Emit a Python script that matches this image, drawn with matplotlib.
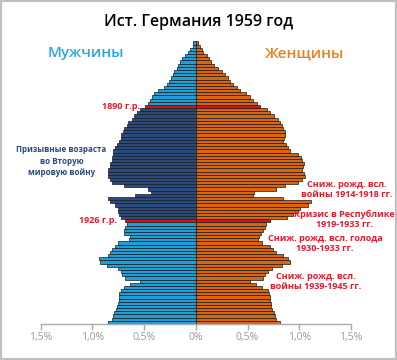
import matplotlib.pyplot as plt
from matplotlib.patches import Rectangle
import numpy as np

# share of total population, %, ages 0..88
male = [0.85, 0.81, 0.80, 0.79, 0.77, 0.76, 0.75, 0.74, 0.74, 0.74,
        0.72, 0.69, 0.64, 0.54, 0.68, 0.71, 0.72, 0.75, 0.86, 0.93,
        0.94, 0.85, 0.83, 0.81, 0.78, 0.75, 0.65, 0.64, 0.69, 0.69,
        0.68, 0.67, 0.68, 0.72, 0.74, 0.75, 0.75, 0.78, 0.83, 0.85,
        0.59, 0.43, 0.46, 0.69, 0.81, 0.83, 0.85, 0.85, 0.85, 0.83,
        0.83, 0.81, 0.81, 0.80, 0.80, 0.78, 0.76, 0.74, 0.72, 0.72,
        0.70, 0.69, 0.67, 0.66, 0.62, 0.60, 0.57, 0.54, 0.49, 0.46,
        0.44, 0.42, 0.40, 0.37, 0.31, 0.28, 0.26, 0.24, 0.22, 0.21,
        0.18, 0.17, 0.15, 0.13, 0.10, 0.08, 0.06, 0.03, 0.03]
female = [0.81, 0.78, 0.77, 0.76, 0.74, 0.73, 0.73, 0.72, 0.72, 0.71,
          0.70, 0.64, 0.58, 0.52, 0.65, 0.67, 0.70, 0.74, 0.83, 0.91,
          0.89, 0.84, 0.78, 0.75, 0.72, 0.64, 0.60, 0.61, 0.63, 0.65,
          0.67, 0.68, 0.72, 0.88, 0.94, 0.99, 1.01, 1.08, 1.11, 0.84,
          0.55, 0.56, 0.78, 0.86, 0.99, 1.03, 1.06, 1.05, 1.03, 1.04,
          1.05, 1.03, 1.02, 0.99, 0.91, 0.89, 0.87, 0.84, 0.85, 0.86,
          0.86, 0.84, 0.83, 0.81, 0.79, 0.76, 0.72, 0.69, 0.62, 0.59,
          0.55, 0.52, 0.49, 0.43, 0.40, 0.36, 0.33, 0.31, 0.28, 0.25,
          0.21, 0.18, 0.15, 0.13, 0.11, 0.07, 0.06, 0.04, 0.02]
ages = np.arange(len(male))
red_ages = [32, 68]  # 1926 and 1890 births
xticks = [-1.5, -1.0, -0.5, 0, 0.5, 1.0, 1.5]
xticklabels = ['1,5%', '1,0%', '0,5%', '0%', '0,5%', '1,0%', '1,5%']

LIGHT = '#1f9fd8'
NAVY = '#2b4b7c'
ORANGE = '#d9650f'
RED = '#cc1a1a'
TXT_RED = '#e8192c'

cm = []
for a in ages:
    if a in red_ages:
        cm.append(RED)
    elif red_ages[0] < a < red_ages[1]:
        cm.append(NAVY)
    else:
        cm.append(LIGHT)
cf = [RED if a in red_ages else ORANGE for a in ages]

plt.rcParams['font.family'] = ['Open Sans', 'DejaVu Sans']

fig = plt.figure(figsize=(3.97, 3.6), dpi=100)
ax = fig.add_axes([0.1025, 0.1, 0.7815, 0.7894])

ax.barh(ages, -np.array(male), height=1, color=cm, edgecolor='#1a1a1a', linewidth=0.5)
ax.barh(ages, female, height=1, color=cf, edgecolor='#1a1a1a', linewidth=0.5)

ax.set_xlim(-1.5, 1.5)
ax.set_ylim(-0.5, 89)
ax.set_xticks(xticks)
ax.set_xticklabels(xticklabels, color='#999999', fontsize=7.5)
ax.tick_params(axis='x', length=4, color='#aaaaaa', width=1, pad=2)
ax.set_yticks([])
for s in ['top', 'right', 'left']:
    ax.spines[s].set_visible(False)
ax.spines['bottom'].set_color('#aaaaaa')
ax.spines['bottom'].set_linewidth(1)
ax.set_facecolor('none')

fig.text(0.5, 1-22/360, 'Ист. Германия 1959 год', ha='center', va='center', fontsize=11.5, color='black', fontweight='semibold')
fig.text(85.5/397, 1-53/360, 'Мужчины', ha='center', va='center', fontsize=11, color='#2aa6df', fontweight='semibold')
fig.text(305/397, 1-53/360, 'Женщины', ha='center', va='center', fontsize=11, color='#e8801e', fontweight='semibold')

kw = dict(fontsize=6.5, fontweight='bold', color=TXT_RED, va='center', linespacing=1.15)
ax.text(-0.54, 68, '1890 г.р.', ha='right', **kw)
ax.text(-0.76, 32, '1926 г.р.', ha='right', **kw)
ax.text(-1.3, 50.7, 'Призывные возраста\nво Вторую\nмировую войну', ha='center', fontsize=5.8,
        fontweight='bold', color=NAVY, va='center', linespacing=1.35)
ax.text(1.46, 41.9, 'Сниж. рожд. всл.\nвойны 1914-1918 гг.', ha='center', **kw)
ax.text(1.44, 32.5, 'Кризис в Республике\n1919-1933 гг.', ha='center', **kw)
ax.text(1.25, 24.8, 'Сниж. рожд. всл. голода\n1930-1933 гг.', ha='center', **kw)
ax.text(1.16, 12.8, 'Сниж. рожд. всл.\nвойны 1939-1945 гг.', ha='center', **kw)
for t in ax.texts:
    t.set_clip_on(False)

fig.patches.append(Rectangle((0, 0), 1, 1, transform=fig.transFigure, fill=False,
                             edgecolor='#c0c0c0', linewidth=3))

fig.savefig('out.png', dpi=100)
